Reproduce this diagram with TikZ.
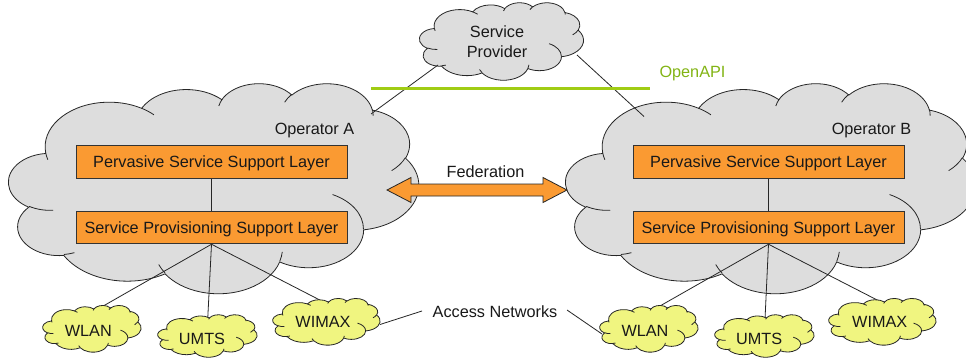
\documentclass[tikz,border=0pt]{standalone}
\usepackage{fontspec}
\setmainfont{Liberation Sans}
\usetikzlibrary{calc}
\definecolor{cloudgray}{RGB}{221,221,221}
\definecolor{boxorange}{RGB}{250,154,50}
\definecolor{netyellow}{RGB}{240,245,128}
\definecolor{apigreen}{RGB}{160,204,20}
\definecolor{apitext}{RGB}{130,180,20}
\definecolor{textdark}{RGB}{25,25,25}
\newcommand\lblfont{\fontsize{16.25}{20}\selectfont}
% elliptical arc with DrawingML-style (visual) angles
\newcommand\carc[4]{arc[x radius=#1,y radius=#2,start angle={atan2((#1)*sin(#3),(#2)*cos(#3))},delta angle={mod(atan2((#1)*sin((#3)+(#4)),(#2)*cos((#3)+(#4)))-atan2((#1)*sin(#3),(#2)*cos(#3))+720,360)}]}
% cloud shape: x0 y0 W H fill
\newcommand\pptcloud[5]{%
  \pgfmathsetmacro\cxu{#3/432}%
  \pgfmathsetmacro\cyu{#4/432}%
  \begin{scope}[shift={(#1,#2)},x=\cxu pt,y=-\cyu pt]
    \filldraw[cloudline,fill=#5] (39,143.7)
      \carc{67.53}{91.90}{-190.4875}{123.7805}
      \carc{53.33}{72.67}{-144.1024}{89.9452}
      \carc{43.65}{59.45}{-145.8079}{99.7230}
      \carc{48.57}{65.95}{-130.9861}{117.2417}
      \carc{53.33}{72.73}{-78.7089}{109.0269}
      \carc{67.75}{92.20}{-46.2673}{130.2690}
      \carc{57.85}{78.67}{0.6250}{114.0333}
      \carc{67.52}{92.15}{22.4516}{115.1726}
      \carc{77.20}{105.43}{66.2426}{75.7110}
      \carc{43.60}{59.18}{-274.9421}{146.7356}
      \carc{43.45}{59.45}{-246.8285}{152.5189} -- cycle;
    \draw[cloudline]
      (46.93,261.77) \carc{43.45}{59.45}{86.7420}{26.4295}
      (69.28,348.99) \carc{43.60}{59.18}{73.6105}{11.4475}
      (164.78,390.90) \carc{67.52}{92.15}{137.6242}{14.0811}
      (288.27,347.51) \carc{67.52}{92.15}{6.4533}{15.9984}
      (341.29,229.54) \carc{57.85}{78.67}{-70.2924}{70.9174}
      (417.98,153.54) \carc{53.33}{72.73}{30.3180}{27.7515}
      (383.24,54.26) \carc{48.57}{65.95}{-13.7443}{14.8589}
      (290.78,39.52) \carc{48.57}{65.95}{-149.1815}{18.1954}
      (221.41,47.20) \carc{43.65}{59.45}{-163.4943}{17.6864}
      (140.00,51.92) \carc{67.53}{91.90}{-66.7070}{12.3194}
      (41.27,157.89) \carc{67.53}{91.90}{157.6544}{11.8582};
  \end{scope}}
\begin{document}
\begin{tikzpicture}[x=1pt,y=-1pt,
  cloudline/.style={draw=black!85,line width=0.8pt},
  layerbox/.style={draw=black!80,line width=1pt,fill=boxorange,minimum width=271pt,minimum height=32.5pt,inner sep=0pt,text height=11.6pt,text depth=0pt,font=\lblfont,text=textdark},
  lbl/.style={inner sep=0pt,text height=11.6pt,text depth=0pt,font=\lblfont,text=textdark},
  conn/.style={draw=black!85,line width=0.8pt},
  fedarrow/.style={draw=black!85,line width=0.8pt,fill=boxorange}]
\useasboundingbox (0,0) rectangle (966,362);
\fill[white] (0,0) rectangle (966,362);
\clip (0,0) rectangle (966,362);

% big clouds
\pptcloud{8.7}{83}{410}{210}{cloudgray}
\pptcloud{565.7}{83}{410}{210}{cloudgray}
\pptcloud{419.5}{2.5}{164}{77.5}{cloudgray}

% cloud text
\node[inner sep=0pt,font=\lblfont,text=textdark,align=center] (sp) at (497,41.7) {Service\\Provider};
\node[lbl] (opA) at (314.5,129) {Operator A};
\node[lbl] (opB) at (871.5,129) {Operator B};

% SP to operators
\coordinate (spSW) at (438,65);
\coordinate (spSE) at (577,55);
\coordinate (opAtop) at (371,114);
\coordinate (opBtop) at (644,116.5);
\draw[conn] (spSW) -- (opAtop);
\draw[conn] (spSE) -- (opBtop);

% OpenAPI line
\coordinate (apiL) at (371,88.5);
\coordinate (apiR) at (650,88.5);
\draw[apigreen,line width=3pt] (apiL) -- (apiR);
\node[lbl,text=apitext] (openapi) at (692.5,72) {OpenAPI};

% layer boxes
\node[layerbox] (psslA) at (211.5,162) {Pervasive Service Support Layer};
\node[layerbox] (spslA) at (211.5,227.5) {Service Provisioning Support Layer};
\node[layerbox] (psslB) at (768.5,162) {Pervasive Service Support Layer};
\node[layerbox] (spslB) at (768.5,227.5) {Service Provisioning Support Layer};
\draw[conn] (psslA.south) -- (spslA.north);
\draw[conn] (psslB.south) -- (spslB.north);

% federation arrow
\coordinate (fedL) at (387,190);
\coordinate (fedR) at (567,190);
\filldraw[fedarrow] (fedL) -- ++(24,-12.5) -- ++(0,6.5) -- ($(fedR)+(-24,-6)$) -- ++(0,-6.5) -- (fedR)
  -- ++(-24,12.5) -- ++(0,-6.5) -- ($(fedL)+(24,6)$) -- ++(0,6.5) -- cycle;
\node[lbl] (fed) at (485.5,172) {Federation};

% access network connectors
\coordinate (wlanAtop) at (95,310.7);
\coordinate (umtsAtop) at (207.7,319.3);
\coordinate (wimaxAtop) at (325,302.7);
\coordinate (wlanBtop) at (652,310.5);
\coordinate (umtsBtop) at (765,319.3);
\coordinate (wimaxBtop) at (883,303);
\draw[conn] (spslA.south) -- (wlanAtop);
\draw[conn] (spslA.south) -- (umtsAtop);
\draw[conn] (spslA.south) -- (wimaxAtop);
\draw[conn] (spslB.south) -- (wlanBtop);
\draw[conn] (spslB.south) -- (umtsBtop);
\draw[conn] (spslB.south) -- (wimaxBtop);

% small clouds
\pptcloud{42.7}{305.3}{98.4}{46.7}{netyellow}
\pptcloud{157.7}{314.6}{99.4}{42.5}{netyellow}
\pptcloud{272.7}{298.3}{107.4}{46.7}{netyellow}
\pptcloud{599.7}{305.3}{98.4}{46.7}{netyellow}
\pptcloud{714.7}{314.6}{99.4}{42.5}{netyellow}
\pptcloud{828.7}{298.3}{107.4}{46.7}{netyellow}
\node[lbl] (wlanA) at (88.3,331) {WLAN};
\node[lbl] (umtsA) at (202,339) {UMTS};
\node[lbl] (wimaxA) at (323,322) {WIMAX};
\node[lbl] (wlanB) at (645,331) {WLAN};
\node[lbl] (umtsB) at (759.2,339) {UMTS};
\node[lbl] (wimaxB) at (879.7,322) {WIMAX};

% access networks label
\node[lbl] (access) at (495,312) {Access Networks};
\coordinate (wimaxAR) at (380,324.5);
\coordinate (accL) at (422,311);
\coordinate (accR) at (567,310);
\coordinate (wlanBL) at (602,334);
\draw[conn] (wimaxAR) -- (accL);
\draw[conn] (accR) -- (wlanBL);
\end{tikzpicture}
\end{document}
